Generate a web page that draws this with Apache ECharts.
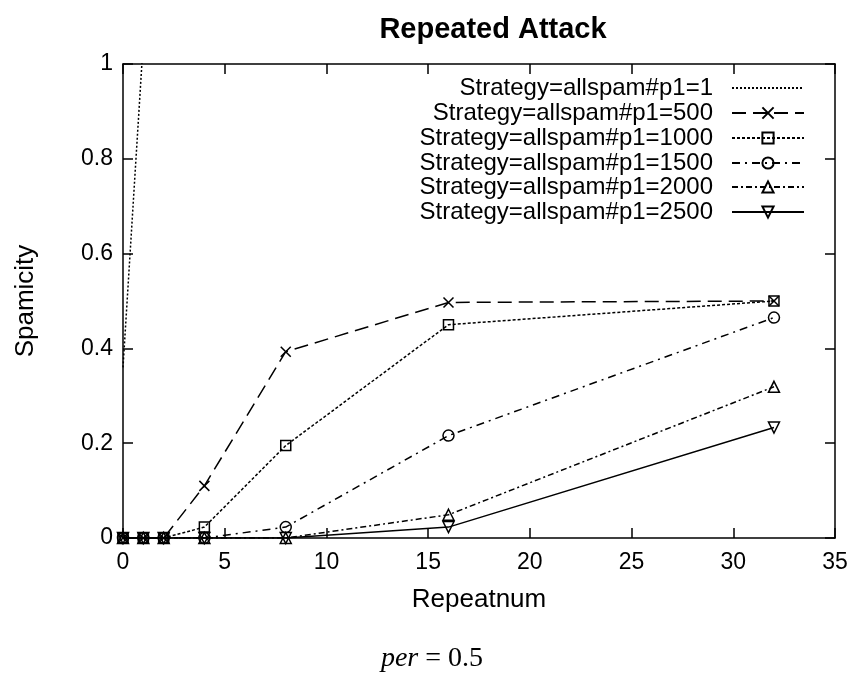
<!DOCTYPE html>
<html><head><meta charset="utf-8">
<script src="https://cdn.jsdelivr.net/npm/echarts@6/dist/echarts.min.js"></script>
<style>html,body{margin:0;padding:0;background:#fff}#c{width:856px;height:673px}</style>
</head><body><div id="c"></div>
<script>
const xValues = [0, 1, 2, 4, 8, 16, 32];
const names = ['Strategy=allspam#p1=1','Strategy=allspam#p1=500','Strategy=allspam#p1=1000','Strategy=allspam#p1=1500','Strategy=allspam#p1=2000','Strategy=allspam#p1=2500'];
const p1_1_x = [0, 1];
const p1_1 = [0.36, 1.05];
const p1_500 = [0, 0, 0, 0.11, 0.393, 0.497, 0.5];
const p1_1000 = [0, 0, 0, 0.023, 0.195, 0.45, 0.5];
const p1_1500 = [0, 0, 0, 0, 0.023, 0.216, 0.465];
const p1_2000 = [0, 0, 0, 0, 0, 0.049, 0.319];
const p1_2500 = [0, 0, 0, 0, 0, 0.023, 0.233];
const xTicks = [0, 5, 10, 15, 20, 25, 30, 35];
const yTicks = [0, 0.2, 0.4, 0.6, 0.8, 1];

const F = 'Liberation Sans, Arial, sans-serif';
const SERIF = 'Liberation Serif, Times New Roman, serif';
const pair = (xs, ys) => xs.map((x, i) => [x, ys[i]]);
const symX = 'path://M0,0L10,10M0,10L10,0';
const symRect = 'path://M0,0L10,0L10,10L0,10Z';
const symCirc = 'path://M5,0A5,5,0,1,1,4.99,0Z';
const symTri = 'path://M5,0L10,8.66L0,8.66Z';
const symInv = 'path://M0,0L10,0L5,8.66Z';

function mk(name, data, dash, sym, size) {
  return {
    name, type: 'line', data, symbol: sym || 'none', symbolSize: size || 10,
    showSymbol: !!sym, clip: true, animation: false,
    lineStyle: { color: '#000', width: 1.5, type: dash },
    itemStyle: { color: 'none', borderColor: '#000', borderWidth: 1.5 },
    emphasis: { disabled: true }
  };
}
const series = [
  mk(names[0], pair(p1_1_x, p1_1), [2, 2], null),
  mk(names[1], pair(xValues, p1_500), [14, 7], symX, 10),
  mk(names[2], pair(xValues, p1_1000), [3, 2], symRect, 10),
  mk(names[3], pair(xValues, p1_1500), [8, 5, 2, 5], symCirc, 11),
  mk(names[4], pair(xValues, p1_2000), [6, 3, 2, 3], symTri, 11),
  mk(names[5], pair(xValues, p1_2500), 'solid', symInv, 11)
];
const legendTops = [76, 101, 126, 151, 175, 200];
const legends = names.map((n, i) => {
  const l = {
    data: [n], right: 51, top: legendTops[i], orient: 'vertical', align: 'right',
    itemWidth: 72, itemHeight: 14, itemGap: 20, padding: 0, selectedMode: false,
    textStyle: { fontFamily: F, fontSize: 24, color: '#000', padding: [0, 14, 0, 0] }
  };
  if (i === 0) l.itemStyle = { opacity: 0 };
  return l;
});

const chart = echarts.init(document.getElementById('c'), null, { renderer: 'canvas' });
const axisCommon = {
  axisLine: { show: true, onZero: false, lineStyle: { color: '#000', width: 1.5 } },
  axisTick: { show: true, inside: true, length: 10, lineStyle: { color: '#000', width: 1.5 } },
  splitLine: { show: false }
};
chart.setOption({
  backgroundColor: '#fff',
  animation: false,
  title: [
    { text: 'Repeated Attack', left: 488, top: 10, textAlign: 'center',
      textStyle: { fontFamily: F, fontSize: 29, fontWeight: 'bold', color: '#000' } },
    { text: '{i|per} = 0.5', left: 427, top: 640, textAlign: 'center',
      textStyle: { fontFamily: SERIF, fontSize: 28, fontWeight: 'normal', color: '#000',
        rich: { i: { fontFamily: SERIF, fontSize: 28, fontStyle: 'italic', color: '#000' } } } }
  ],
  legend: legends,
  grid: { left: 123, right: 21, top: 64, bottom: 135, containLabel: false },
  xAxis: [
    Object.assign({ type: 'value', min: 0, max: 35, interval: 5, position: 'bottom',
      name: 'Repeatnum', nameLocation: 'middle', nameGap: 49,
      nameTextStyle: { fontFamily: F, fontSize: 26, color: '#000' },
      axisLabel: { fontFamily: F, fontSize: 23, color: '#000', margin: 13,
        formatter: v => xTicks.includes(v) ? String(v) : '' } }, axisCommon),
    Object.assign({ type: 'value', min: 0, max: 35, interval: 5, position: 'top',
      axisLabel: { show: false } }, axisCommon)
  ],
  yAxis: [
    Object.assign({ type: 'value', min: 0, max: 1, interval: 0.2, position: 'left',
      name: 'Spamicity', nameLocation: 'middle', nameGap: 84, nameRotate: 90,
      nameTextStyle: { fontFamily: F, fontSize: 26, color: '#000' },
      axisLabel: { fontFamily: F, fontSize: 23, color: '#000', margin: 10,
        formatter: v => { const t = yTicks.find(y => Math.abs(y - v) < 1e-9); return t === undefined ? '' : String(t); } } }, axisCommon),
    Object.assign({ type: 'value', min: 0, max: 1, interval: 0.2, position: 'right',
      axisLabel: { show: false } }, axisCommon)
  ],
  series
});
</script></body></html>
